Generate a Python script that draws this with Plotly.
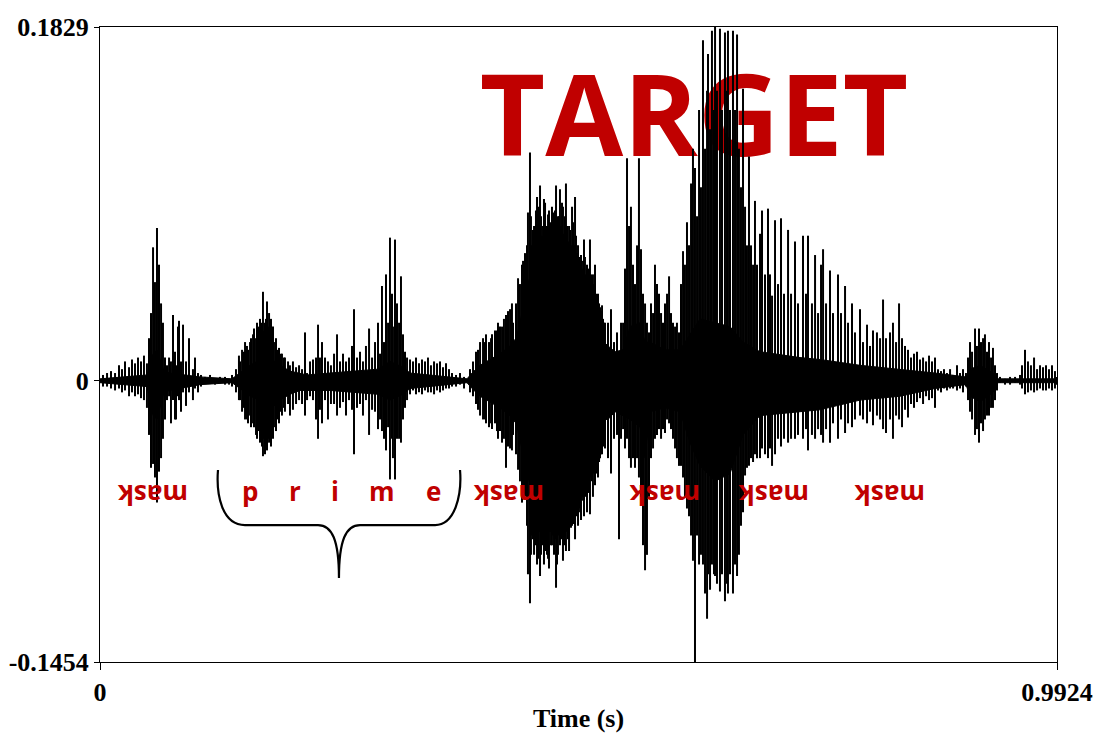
import plotly.graph_objects as go

# ---------------- data (time in s, amplitude) ----------------
# peak (max / min) samples of the waveform, by region
mask1_t = [0.0031,0.0073,0.0114,0.0156,0.0197,0.0228,0.0259,0.0301,0.0332,0.0363,0.0394,0.0425,0.0456,0.0487,
           0.0508,0.0529,0.0550,0.0570,0.0591,0.0612,0.0633,0.0653,0.0674,0.0695,0.0716,0.0736,0.0757,0.0778,
           0.0788,0.0809,0.0819,0.0840,0.0861,0.0892,0.0923,0.0964,0.0985,0.1016,0.1047,0.1089,0.1141,0.1193,
           0.1244,0.1296,0.1338]
mask1_max = [0.003,0.004,0.005,0.004,0.008,0.006,0.010,0.007,0.011,0.009,0.012,0.010,0.013,0.009,
             0.022,0.035,0.069,0.051,0.079,0.060,0.040,0.030,0.012,0.008,0.012,0.010,0.034,0.015,
             0.008,0.028,0.031,0.010,0.029,0.010,0.022,0.006,0.012,0.004,0.003,0.002,0.003,0.001,
             0.002,0.002,0.001]
mask1_min = [-0.003,-0.003,-0.004,-0.005,-0.004,-0.006,-0.005,-0.008,-0.006,-0.008,-0.007,-0.009,-0.010,-0.014,
             -0.028,-0.045,-0.043,-0.050,-0.063,-0.047,-0.040,-0.030,-0.020,-0.010,-0.008,-0.022,-0.010,-0.020,
             -0.020,-0.008,-0.010,-0.016,-0.006,-0.013,-0.006,-0.010,-0.004,-0.006,-0.003,-0.001,-0.001,-0.002,
             -0.001,-0.002,-0.002]

p_t = [0.1369,0.1410,0.1441,0.1473,0.1504,0.1535,0.1566,0.1597,0.1628,0.1659,0.1690,0.1711,0.1732,0.1753,
       0.1773,0.1794,0.1825,0.1856,0.1887,0.1918,0.1970,0.2001,0.2033,0.2064,0.2095,0.2126,0.2147]
p_max = [0.003,0.006,0.013,0.016,0.020,0.016,0.022,0.027,0.030,0.032,0.046,0.030,0.041,0.035,
         0.032,0.028,0.022,0.017,0.014,0.012,0.008,0.010,0.007,0.008,0.006,0.025,0.004]
p_min = [-0.003,-0.006,-0.010,-0.016,-0.020,-0.022,-0.024,-0.024,-0.030,-0.032,-0.039,-0.038,-0.036,-0.032,
         -0.034,-0.030,-0.026,-0.022,-0.018,-0.016,-0.018,-0.015,-0.012,-0.010,-0.012,-0.018,-0.010]

# in-between cycles of the "p" burst
pb_t = [0.1452,0.1493,0.1524,0.1556,0.1587,0.1618,0.1649,0.1680,0.1701,0.1721,0.1742,0.1763,0.1784,
        0.1815,0.1846,0.1877,0.1908,0.1950]
pb_max = [0.010,0.015,0.018,0.020,0.024,0.022,0.028,0.030,0.026,0.032,0.028,0.026,0.024,
          0.020,0.016,0.014,0.012,0.010]
pb_min = [-0.010,-0.014,-0.020,-0.018,-0.022,-0.028,-0.026,-0.034,-0.030,-0.028,-0.030,-0.028,-0.026,
          -0.024,-0.020,-0.016,-0.014,-0.012]

rim_t = [0.2178,0.2209,0.2240,0.2261,0.2281,0.2302,0.2333,0.2364,0.2395,0.2427,
         0.2458,0.2489,0.2520,0.2551,0.2582,0.2613,0.2634,0.2665,0.2696,0.2727,
         0.2758,0.2790,0.2821,0.2852,0.2883,0.2904,0.2924,0.2945,0.2966,0.2987,
         0.3007,0.3028,0.3038,0.3059,0.3080,0.3101,0.3121,0.3142,0.3163,0.3184]
rim_max = [0.010,0.011,0.012,0.029,0.012,0.020,0.012,0.010,0.008,0.014,
           0.024,0.010,0.014,0.010,0.012,0.018,0.037,0.012,0.015,0.010,
           0.018,0.027,0.012,0.020,0.030,0.014,0.049,0.020,0.055,0.030,
           0.074,0.045,0.028,0.073,0.040,0.030,0.054,0.024,0.015,0.012]
rim_min = [-0.008,-0.010,-0.020,-0.030,-0.015,-0.022,-0.010,-0.020,-0.012,-0.012,
           -0.018,-0.014,-0.011,-0.018,-0.010,-0.015,-0.038,-0.014,-0.012,-0.018,
           -0.010,-0.028,-0.015,-0.016,-0.025,-0.020,-0.026,-0.030,-0.036,-0.024,
           -0.051,-0.030,-0.040,-0.051,-0.030,-0.030,-0.032,-0.020,-0.014,-0.010]

e_t = [0.3215,0.3246,0.3277,0.3308,0.3339,0.3370,0.3401,0.3432,0.3464,0.3495,0.3526,0.3557,0.3588,0.3619,
       0.3650,0.3692,0.3733,0.3775]
e_max = [0.011,0.010,0.012,0.009,0.011,0.010,0.012,0.008,0.010,0.009,0.010,0.007,0.009,0.006,
         0.004,0.003,0.004,0.002]
e_min = [-0.007,-0.005,-0.007,-0.006,-0.007,-0.005,-0.006,-0.006,-0.007,-0.005,-0.006,-0.005,-0.004,-0.004,
         -0.003,-0.003,-0.002,-0.004]

mask2_t = [0.3837,0.3868,0.3899,0.3941,0.3972,0.4003,0.4034,0.4065,0.4096,0.4127,
           0.4169,0.4210,0.4252,0.4283,0.4335,0.4376,0.4407,0.4438,0.4459,0.4480,
           0.4501,0.4532,0.4563,0.4584,0.4604,0.4635,0.4656,0.4677,0.4698,0.4729,
           0.4749,0.4770,0.4801,0.4832,0.4864,0.4895,0.4926,0.4957,0.4988,0.5019,
           0.5050,0.5081,0.5112,0.5133,0.5164,0.5206,0.5237]
mask2_max = [0.006,0.010,0.015,0.020,0.022,0.024,0.020,0.024,0.026,0.030,
             0.028,0.034,0.037,0.030,0.053,0.060,0.066,0.087,0.118,0.070,
             0.080,0.095,0.101,0.075,0.094,0.080,0.088,0.076,0.087,0.101,
             0.085,0.099,0.090,0.102,0.080,0.090,0.095,0.070,0.065,0.073,
             0.060,0.073,0.055,0.060,0.045,0.039,0.030]
mask2_min = [-0.006,-0.008,-0.012,-0.018,-0.020,-0.022,-0.024,-0.025,-0.022,-0.030,
             -0.032,-0.045,-0.035,-0.028,-0.046,-0.063,-0.060,-0.100,-0.115,-0.080,
             -0.090,-0.095,-0.101,-0.085,-0.095,-0.090,-0.097,-0.085,-0.080,-0.107,
             -0.090,-0.085,-0.093,-0.088,-0.088,-0.075,-0.082,-0.075,-0.072,-0.070,
             -0.068,-0.069,-0.060,-0.054,-0.050,-0.038,-0.035]

# in-between (shorter) cycles of the loud second "mask" burst
mask2b_t = [0.3920,0.3992,0.4055,0.4117,0.4148,0.4189,0.4231,0.4272,
            0.4314,0.4355,0.4387,0.4428,0.4469,0.4490,0.4521,0.4542,0.4552,0.4573,
            0.4594,0.4615,0.4625,0.4646,0.4667,0.4687,0.4708,0.4718,0.4739,0.4760,
            0.4781,0.4791,0.4812,0.4822,0.4843,0.4853,0.4874,0.4884,0.4905,0.4915,
            0.4936,0.4946,0.4967,0.4978,0.4998,0.5009,0.5029,0.5040,0.5061,0.5071,
            0.5092,0.5102,0.5123,0.5144,0.5154,0.5175,0.5185,0.5195,0.5216,0.5226]
mask2b_max = [0.016,0.020,0.022,0.026,0.028,0.032,0.036,0.040,
              0.040,0.050,0.062,0.070,0.085,0.078,0.088,0.082,0.090,0.085,
              0.080,0.092,0.078,0.086,0.082,0.090,0.080,0.088,0.078,0.085,
              0.080,0.092,0.076,0.085,0.080,0.072,0.078,0.070,0.082,0.070,
              0.075,0.066,0.064,0.060,0.062,0.058,0.064,0.055,0.058,0.052,
              0.055,0.048,0.050,0.045,0.042,0.040,0.038,0.036,0.032,0.030]
mask2b_min = [-0.015,-0.020,-0.022,-0.026,-0.026,-0.030,-0.034,-0.036,
              -0.038,-0.052,-0.058,-0.075,-0.090,-0.082,-0.085,-0.092,-0.078,-0.090,
              -0.080,-0.088,-0.082,-0.092,-0.078,-0.085,-0.090,-0.082,-0.095,-0.080,
              -0.082,-0.078,-0.085,-0.080,-0.078,-0.082,-0.072,-0.076,-0.070,-0.074,
              -0.068,-0.070,-0.066,-0.068,-0.060,-0.062,-0.058,-0.060,-0.055,-0.058,
              -0.050,-0.052,-0.048,-0.046,-0.048,-0.042,-0.040,-0.038,-0.034,-0.032]

mask3_t = [0.5268,0.5299,0.5330,0.5361,0.5382,0.5403,0.5424,0.5444,0.5465,0.5486,
           0.5506,0.5527,0.5548,0.5569,0.5589,0.5610,0.5631,0.5652,0.5672,0.5693,
           0.5714,0.5735,0.5755,0.5776,0.5797,0.5818,0.5838,0.5859,0.5880,0.5901,
           0.5921,0.5942,0.5963,0.5983,0.6004,0.6025,0.6046,0.6066,0.6087,0.6108,
           0.6129,0.6149,0.6170,0.6191]
mask3_max = [0.030,0.037,0.020,0.025,0.015,0.030,0.030,0.058,0.115,0.080,
             0.090,0.060,0.050,0.070,0.115,0.068,0.045,0.040,0.030,0.025,
             0.040,0.035,0.060,0.050,0.045,0.035,0.030,0.040,0.045,0.054,
             0.035,0.030,0.028,0.030,0.025,0.050,0.067,0.060,0.082,0.070,
             0.102,0.120,0.110,0.085]
mask3_min = [-0.040,-0.048,-0.030,-0.028,-0.082,-0.030,-0.025,-0.035,-0.030,-0.040,
             -0.045,-0.040,-0.045,-0.040,-0.050,-0.060,-0.085,-0.098,-0.090,-0.060,
             -0.040,-0.035,-0.030,-0.028,-0.025,-0.030,-0.025,-0.027,-0.020,-0.022,
             -0.025,-0.030,-0.035,-0.040,-0.044,-0.044,-0.050,-0.060,-0.066,-0.070,
             -0.080,-0.093,-0.1454,-0.080]

target_t = [0.6212,0.6232,0.6253,0.6274,0.6295,0.6305,0.6326,0.6346,0.6367,0.6378,
            0.6398,0.6429,0.6450,0.6481,0.6502,0.6512,0.6533,0.6564,0.6585,0.6606,
            0.6626,0.6647,0.6668,0.6689,0.6709,0.6730,0.6751,0.6772,0.6792,0.6813,
            0.6844,0.6865,0.6896,0.6927,0.6948,0.6969,0.7000,0.7031,0.7062,0.7093,
            0.7135,0.7166,0.7207,0.7238,0.7290,0.7321,0.7342,0.7383,0.7415,0.7446,
            0.7477,0.7498,0.7529,0.7570,0.7601,0.7653,0.7684,0.7726,0.7757,0.7798,
            0.7829,0.7881,0.7912,0.7954,0.7985,0.8016,0.8057,0.8089,0.8120,0.8151,
            0.8192,0.8223,0.8255,0.8286,0.8317,0.8348,0.8379,0.8410,0.8441,0.8472,
            0.8503,0.8535,0.8566,0.8597,0.8628,0.8659]
target_max = [0.140,0.100,0.176,0.120,0.150,0.169,0.130,0.181,0.140,0.183,
              0.150,0.182,0.140,0.180,0.150,0.181,0.140,0.181,0.140,0.179,
              0.120,0.100,0.151,0.090,0.070,0.116,0.070,0.060,0.093,0.060,
              0.076,0.088,0.055,0.089,0.055,0.044,0.083,0.050,0.084,0.045,
              0.078,0.045,0.072,0.040,0.075,0.045,0.075,0.040,0.065,0.035,
              0.060,0.068,0.040,0.057,0.035,0.055,0.035,0.049,0.030,0.040,
              0.025,0.037,0.020,0.029,0.018,0.026,0.025,0.022,0.042,0.022,
              0.025,0.030,0.020,0.040,0.022,0.018,0.016,0.012,0.014,0.015,
              0.011,0.012,0.010,0.013,0.010,0.012]
target_min = [-0.095,-0.090,-0.095,-0.110,-0.123,-0.100,-0.108,-0.095,-0.100,-0.101,
              -0.105,-0.109,-0.100,-0.114,-0.105,-0.110,-0.100,-0.110,-0.095,-0.101,
              -0.090,-0.075,-0.068,-0.049,-0.045,-0.044,-0.040,-0.042,-0.038,-0.040,
              -0.040,-0.035,-0.038,-0.040,-0.035,-0.044,-0.038,-0.030,-0.034,-0.030,
              -0.032,-0.030,-0.030,-0.028,-0.030,-0.025,-0.036,-0.028,-0.030,-0.025,
              -0.028,-0.032,-0.025,-0.032,-0.022,-0.030,-0.020,-0.027,-0.022,-0.024,
              -0.020,-0.018,-0.020,-0.022,-0.016,-0.023,-0.018,-0.020,-0.025,-0.027,
              -0.020,-0.030,-0.018,-0.020,-0.024,-0.015,-0.019,-0.012,-0.014,-0.011,
              -0.009,-0.012,-0.008,-0.010,-0.009,-0.014]

tail_t = [0.8690,0.8721,0.8752,0.8783,0.8815,0.8846,0.8887,0.8918,0.8949,0.8980,
          0.9001,0.9022,0.9043,0.9074,0.9094,0.9115,0.9136,0.9157,0.9177,0.9198,
          0.9219,0.9240,0.9260,0.9281,0.9302,0.9333,0.9385,0.9437,0.9489,0.9540,
          0.9561,0.9592,0.9623,0.9654,0.9686,0.9717,0.9748,0.9779,0.9810,0.9841,
          0.9872,0.9903,0.9924]
tail_max = [0.006,0.005,0.006,0.004,0.006,0.003,0.008,0.004,0.006,0.004,
            0.012,0.020,0.015,0.027,0.018,0.027,0.020,0.022,0.024,0.015,
            0.020,0.012,0.017,0.008,0.004,0.002,0.001,0.002,0.002,0.003,
            0.008,0.016,0.010,0.008,0.012,0.006,0.008,0.007,0.008,0.006,
            0.008,0.005,0.002]
tail_min = [-0.005,-0.006,-0.004,-0.005,-0.004,-0.004,-0.005,-0.004,-0.006,-0.003,
            -0.010,-0.016,-0.020,-0.028,-0.025,-0.032,-0.022,-0.026,-0.020,-0.018,
            -0.018,-0.014,-0.014,-0.010,-0.005,-0.001,-0.002,-0.002,-0.001,-0.002,
            -0.004,-0.007,-0.006,-0.005,-0.006,-0.005,-0.004,-0.005,-0.005,-0.004,
            -0.005,-0.004,-0.002]

# dense core of the waveform (solid black band)
env_t = [0, 0.0487, 0.0519, 0.0550, 0.0591, 0.0633, 0.0664, 0.0726, 0.1037, 0.1369, 0.1452, 0.1556,
         0.1659, 0.1690, 0.1784, 0.1867, 0.1970, 0.2074, 0.2147, 0.2385, 0.2883, 0.3007, 0.3142, 0.3215,
         0.3806, 0.3858, 0.3941, 0.4044, 0.4148, 0.4252, 0.4314, 0.4355, 0.4407, 0.4459, 0.4563, 0.4667,
         0.4770, 0.4874, 0.4978, 0.5081, 0.5185, 0.5268, 0.5341, 0.5424, 0.5496, 0.5600, 0.5652, 0.5704,
         0.5859, 0.6015, 0.6118, 0.6222, 0.6378, 0.6533, 0.6668, 0.6844, 0.7259, 0.7466, 0.7881, 0.8296,
         0.8659, 0.8980, 0.9022, 0.9126, 0.9260, 0.9312, 0.9924]
env_max = [0.001,0.003,0.008,0.014,0.016,0.010,0.005,0.004,0.002,0.001,0.004,0.008,
           0.011,0.014,0.011,0.008,0.005,0.004,0.003,0.004,0.006,0.010,0.007,0.004,
           0.001,0.004,0.008,0.011,0.014,0.018,0.022,0.030,0.044,0.054,0.060,0.058,
           0.054,0.046,0.036,0.028,0.022,0.018,0.015,0.016,0.028,0.030,0.020,0.020,
           0.016,0.016,0.024,0.032,0.030,0.028,0.020,0.015,0.012,0.011,0.008,0.006,
           0.004,0.002,0.006,0.008,0.004,0.001,0.001]
env_min = [-0.001,-0.003,-0.010,-0.018,-0.020,-0.012,-0.006,-0.005,-0.002,-0.001,-0.004,-0.008,
           -0.010,-0.016,-0.014,-0.010,-0.007,-0.005,-0.005,-0.005,-0.007,-0.010,-0.007,-0.004,
           -0.001,-0.004,-0.008,-0.011,-0.014,-0.018,-0.022,-0.030,-0.042,-0.054,-0.060,-0.058,
           -0.052,-0.046,-0.036,-0.027,-0.020,-0.020,-0.016,-0.018,-0.020,-0.024,-0.040,-0.016,
           -0.014,-0.016,-0.032,-0.044,-0.052,-0.048,-0.028,-0.018,-0.016,-0.015,-0.010,-0.008,
           -0.004,-0.002,-0.008,-0.011,-0.006,-0.001,-0.001]

y_ticks = [-0.1454, 0, 0.1829]
y_ticktext = ["-0.1454", "0", "0.1829"]
x_ticks = [0, 0.9924]
x_ticktext = ["0", "0.9924"]

title_label = "TARGET"
title_pos = (0.616, 0.131)                              # (time, amplitude) of its centre
mask_x = [0.0554, 0.4274, 0.5893, 0.7043, 0.8255]      # label positions (paper x)
prime_letters = ["p", "r", "i", "m", "e"]
prime_x = [0.1567, 0.2038, 0.2456, 0.2947, 0.3480]

# ---------------- build ----------------
segments = [(mask1_t, mask1_max, mask1_min), (p_t, p_max, p_min), (pb_t, pb_max, pb_min),
            (rim_t, rim_max, rim_min), (e_t, e_max, e_min), (mask2_t, mask2_max, mask2_min),
            (mask2b_t, mask2b_max, mask2b_min), (mask3_t, mask3_max, mask3_min),
            (target_t, target_max, target_min), (tail_t, tail_max, tail_min)]
wx, wy = [], []
for i, (ts, hs, ls) in enumerate(segments):
    if not (len(ts) == len(hs) == len(ls)):
        raise ValueError(f"segment {i}: {len(ts)} {len(hs)} {len(ls)}")
    for t, h, l in zip(ts, hs, ls):
        wx += [t, t, None]
        wy += [h, l, None]

RED = "#C00000"
fig = go.Figure()
# big label first so the waveform is drawn over it (as in the reference)
fig.add_trace(go.Scatter(x=[title_pos[0]], y=[title_pos[1]], mode="text", text=[title_label],
                         textposition="middle center", hoverinfo="skip",
                         textfont=dict(family="Open Sans", size=113, color=RED, weight="bold")))
fig.add_trace(go.Scatter(x=env_t + env_t[::-1], y=env_max + env_min[::-1], fill="toself",
                         fillcolor="black", line=dict(color="black", width=1),
                         mode="lines", hoverinfo="skip"))
fig.add_trace(go.Scatter(x=wx, y=wy, mode="lines", line=dict(color="black", width=2),
                         hoverinfo="skip", connectgaps=False))

tickfont = dict(family="Liberation Serif", size=26, color="black", weight="bold")
fig.update_layout(
    width=1101, height=733, margin=dict(l=100, r=44, t=27, b=71, autoexpand=False),
    plot_bgcolor="white", paper_bgcolor="white", showlegend=False,
    xaxis=dict(range=[0, 0.9924], tickvals=x_ticks, ticktext=x_ticktext, ticks="outside",
               ticklen=7, tickcolor="black", showline=True, mirror=True, linecolor="black",
               linewidth=1, showgrid=False, zeroline=False, tickfont=tickfont, automargin=False,
               title=dict(text="Time (s)", standoff=6,
                          font=dict(family="Liberation Serif", size=26, color="black", weight="bold"))),
    yaxis=dict(range=[-0.1454, 0.1829], tickvals=y_ticks, ticktext=y_ticktext, ticks="outside",
               ticklen=5, tickcolor="black", showline=True, mirror=True, linecolor="black",
               linewidth=1, showgrid=False, zeroline=False, tickfont=tickfont, automargin=False),
)

fig.add_shape(type="line", xref="x", yref="y", x0=0, x1=0.9924, y0=0, y1=0,
              line=dict(color="#444444", width=1, dash="dot"), layer="below")

# brace under "prime"
brace = ("M 0.1233,0.3024 C 0.1212,0.2630 0.1275,0.2157 0.1515,0.2157 L 0.2278,0.2157 "
         "C 0.2424,0.2157 0.2497,0.1921 0.2497,0.1323 C 0.2497,0.1921 0.2571,0.2157 0.2717,0.2157 "
         "L 0.3501,0.2157 C 0.3710,0.2157 0.3783,0.2630 0.3762,0.3024")
fig.add_shape(type="path", xref="paper", yref="paper", path=brace,
              line=dict(color="black", width=2.2))

for mx in mask_x:
    fig.add_annotation(text="mask", xref="paper", yref="paper", x=mx, y=0.2640,
                       xanchor="center", yanchor="middle", showarrow=False, textangle=180,
                       font=dict(family="Open Sans", size=26, color=RED, weight="bold"))
for ch, px in zip(prime_letters, prime_x):
    fig.add_annotation(text=ch, xref="paper", yref="paper", x=px, y=0.2690,
                       xanchor="center", yanchor="middle", showarrow=False,
                       font=dict(family="Open Sans", size=26, color=RED, weight="bold"))

fig.write_html("out.html", config={"displayModeBar": False},
               post_script="document.body.style.margin='0';")
